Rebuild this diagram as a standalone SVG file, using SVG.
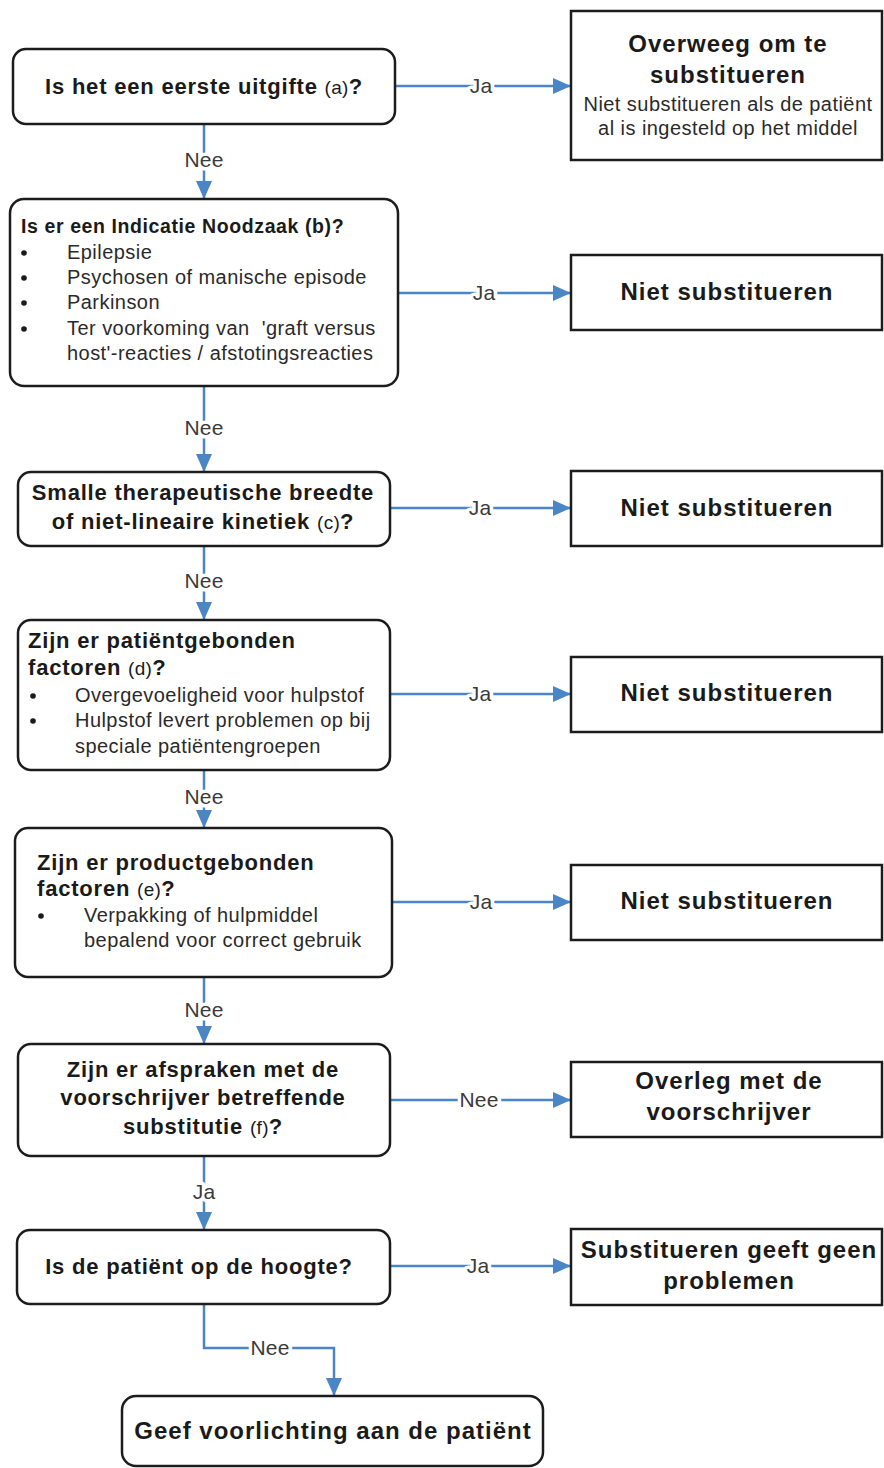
<svg xmlns="http://www.w3.org/2000/svg" width="884" height="1468" viewBox="0 0 884 1468">
<defs>
<marker id="arr" markerUnits="userSpaceOnUse" markerWidth="18" markerHeight="16" refX="18" refY="8" orient="auto">
<path d="M0,0 L18,8 L0,16 z" fill="#4a86c6"/>
</marker>
<style>
.q{fill:#fff;stroke:#1c1c1c;stroke-width:2.5}
.o{fill:#fff;stroke:#1c1c1c;stroke-width:2.5}
.h{font-family:"Liberation Sans",Arial,sans-serif;font-weight:bold;font-size:22px;letter-spacing:0.8px;fill:#1a1a1a}
.hc{text-anchor:middle}
.r{font-family:"Liberation Sans",Arial,sans-serif;font-size:20px;letter-spacing:0.45px;fill:#2a2a2a}
.t{font-family:"Liberation Sans",Arial,sans-serif;font-weight:bold;font-size:24px;letter-spacing:1px;fill:#1a1a1a;text-anchor:middle}
.ref{font-size:19px;font-weight:normal;letter-spacing:0.3px}
.c{fill:none;stroke:#4a86c6;stroke-width:2.5}
.l{font-family:"Liberation Sans",Arial,sans-serif;font-size:21px;letter-spacing:0.2px;fill:#3a3a3a;text-anchor:middle;stroke:#fff;stroke-width:7px;paint-order:stroke;stroke-linejoin:round}
</style>
</defs>
<rect width="884" height="1468" fill="#fff"/>

<g id="connectors">
<path class="c" d="M395,86 H571" marker-end="url(#arr)"/>
<text class="l" x="481" y="93">Ja</text>
<path class="c" d="M204,124 V199" marker-end="url(#arr)"/>
<text class="l" x="204" y="167">Nee</text>

<path class="c" d="M398,293 H571" marker-end="url(#arr)"/>
<text class="l" x="484" y="300">Ja</text>
<path class="c" d="M204,386 V472" marker-end="url(#arr)"/>
<text class="l" x="204" y="435">Nee</text>

<path class="c" d="M390,508 H571" marker-end="url(#arr)"/>
<text class="l" x="480" y="515">Ja</text>
<path class="c" d="M204,546 V620" marker-end="url(#arr)"/>
<text class="l" x="204" y="588">Nee</text>

<path class="c" d="M390,694 H571" marker-end="url(#arr)"/>
<text class="l" x="480" y="701">Ja</text>
<path class="c" d="M204,770 V828" marker-end="url(#arr)"/>
<text class="l" x="204" y="804">Nee</text>

<path class="c" d="M392,902 H571" marker-end="url(#arr)"/>
<text class="l" x="481" y="909">Ja</text>
<path class="c" d="M204,977 V1044" marker-end="url(#arr)"/>
<text class="l" x="204" y="1017">Nee</text>

<path class="c" d="M390,1100 H571" marker-end="url(#arr)"/>
<text class="l" x="479" y="1107">Nee</text>
<path class="c" d="M204,1156 V1230" marker-end="url(#arr)"/>
<text class="l" x="204" y="1199">Ja</text>

<path class="c" d="M390,1266 H571" marker-end="url(#arr)"/>
<text class="l" x="478" y="1273">Ja</text>
<path class="c" d="M204,1304 V1348 H334 V1396" marker-end="url(#arr)"/>
<text class="l" x="270" y="1355">Nee</text>
</g>

<g id="q-a">
<rect class="q" x="13" y="49" width="382" height="75" rx="13"/>
<text class="h hc" x="204" y="94">Is het een eerste uitgifte <tspan class="ref">(a)</tspan>?</text>
</g>

<g id="r-1">
<rect class="o" x="571" y="11" width="311" height="149"/>
<text class="t" x="728" y="52">Overweeg om te</text>
<text class="t" x="728" y="83">substitueren</text>
<text class="r" x="728" y="111" text-anchor="middle">Niet substitueren als de patiënt</text>
<text class="r" x="728" y="135" text-anchor="middle">al is ingesteld op het middel</text>
</g>

<g id="q-b">
<rect class="q" x="10" y="199" width="388" height="187" rx="14"/>
<text class="h" x="21" y="233" style="font-size:19.5px;letter-spacing:0.6px">Is er een Indicatie Noodzaak (b)?</text>
<g class="r">
<circle cx="24" cy="253" r="2.8" fill="#1a1a1a"/>
<circle cx="24" cy="278" r="2.8" fill="#1a1a1a"/>
<circle cx="24" cy="303" r="2.8" fill="#1a1a1a"/>
<circle cx="24" cy="329" r="2.8" fill="#1a1a1a"/>
<text x="67" y="259">Epilepsie</text>
<text x="67" y="284">Psychosen of manische episode</text>
<text x="67" y="309">Parkinson</text>
<text x="67" y="335">Ter voorkoming van&#160; 'graft versus</text>
<text x="67" y="360">host'-reacties / afstotingsreacties</text>
</g>
</g>

<g id="r-2">
<rect class="o" x="571" y="255" width="311" height="75"/>
<text class="t" x="727" y="300">Niet substitueren</text>
</g>

<g id="q-c">
<rect class="q" x="18" y="472" width="372" height="74" rx="13"/>
<text class="h hc" x="203" y="500">Smalle therapeutische breedte</text>
<text class="h hc" x="203" y="529">of niet-lineaire kinetiek <tspan class="ref">(c)</tspan>?</text>
</g>

<g id="r-3">
<rect class="o" x="571" y="471" width="311" height="75"/>
<text class="t" x="727" y="516">Niet substitueren</text>
</g>

<g id="q-d">
<rect class="q" x="18" y="620" width="372" height="150" rx="13"/>
<text class="h" x="28" y="648">Zijn er patiëntgebonden</text>
<text class="h" x="28" y="675">factoren <tspan class="ref">(d)</tspan>?</text>
<g class="r">
<circle cx="33" cy="696" r="2.8" fill="#1a1a1a"/>
<circle cx="33" cy="721" r="2.8" fill="#1a1a1a"/>
<text x="75" y="702">Overgevoeligheid voor hulpstof</text>
<text x="75" y="727">Hulpstof levert problemen op bij</text>
<text x="75" y="753">speciale patiëntengroepen</text>
</g>
</g>

<g id="r-4">
<rect class="o" x="571" y="657" width="311" height="75"/>
<text class="t" x="727" y="701">Niet substitueren</text>
</g>

<g id="q-e">
<rect class="q" x="15" y="828" width="377" height="149" rx="13"/>
<text class="h" x="37" y="870">Zijn er productgebonden</text>
<text class="h" x="37" y="896">factoren <tspan class="ref">(e)</tspan>?</text>
<g class="r">
<circle cx="41" cy="916" r="2.8" fill="#1a1a1a"/>
<text x="84" y="922">Verpakking of hulpmiddel</text>
<text x="84" y="947">bepalend voor correct gebruik</text>
</g>
</g>

<g id="r-5">
<rect class="o" x="571" y="865" width="311" height="75"/>
<text class="t" x="727" y="909">Niet substitueren</text>
</g>

<g id="q-f">
<rect class="q" x="18" y="1044" width="372" height="112" rx="13"/>
<text class="h hc" x="203" y="1077">Zijn er afspraken met de</text>
<text class="h hc" x="203" y="1105">voorschrijver betreffende</text>
<text class="h hc" x="203" y="1134">substitutie <tspan class="ref">(f)</tspan>?</text>
</g>

<g id="r-6">
<rect class="o" x="571" y="1062" width="311" height="75"/>
<text class="t" x="729" y="1089">Overleg met de</text>
<text class="t" x="729" y="1120">voorschrijver</text>
</g>

<g id="q-g">
<rect class="q" x="17" y="1230" width="373" height="74" rx="13"/>
<text class="h hc" x="199" y="1274">Is de patiënt op de hoogte?</text>
</g>

<g id="r-7">
<rect class="o" x="571" y="1229" width="311" height="76"/>
<text class="t" x="729" y="1258">Substitueren geeft geen</text>
<text class="t" x="729" y="1289">problemen</text>
</g>

<g id="end-h">
<rect class="q" x="122" y="1396" width="421" height="70" rx="14"/>
<text class="t" x="333" y="1439">Geef voorlichting aan de patiënt</text>
</g>
</svg>
